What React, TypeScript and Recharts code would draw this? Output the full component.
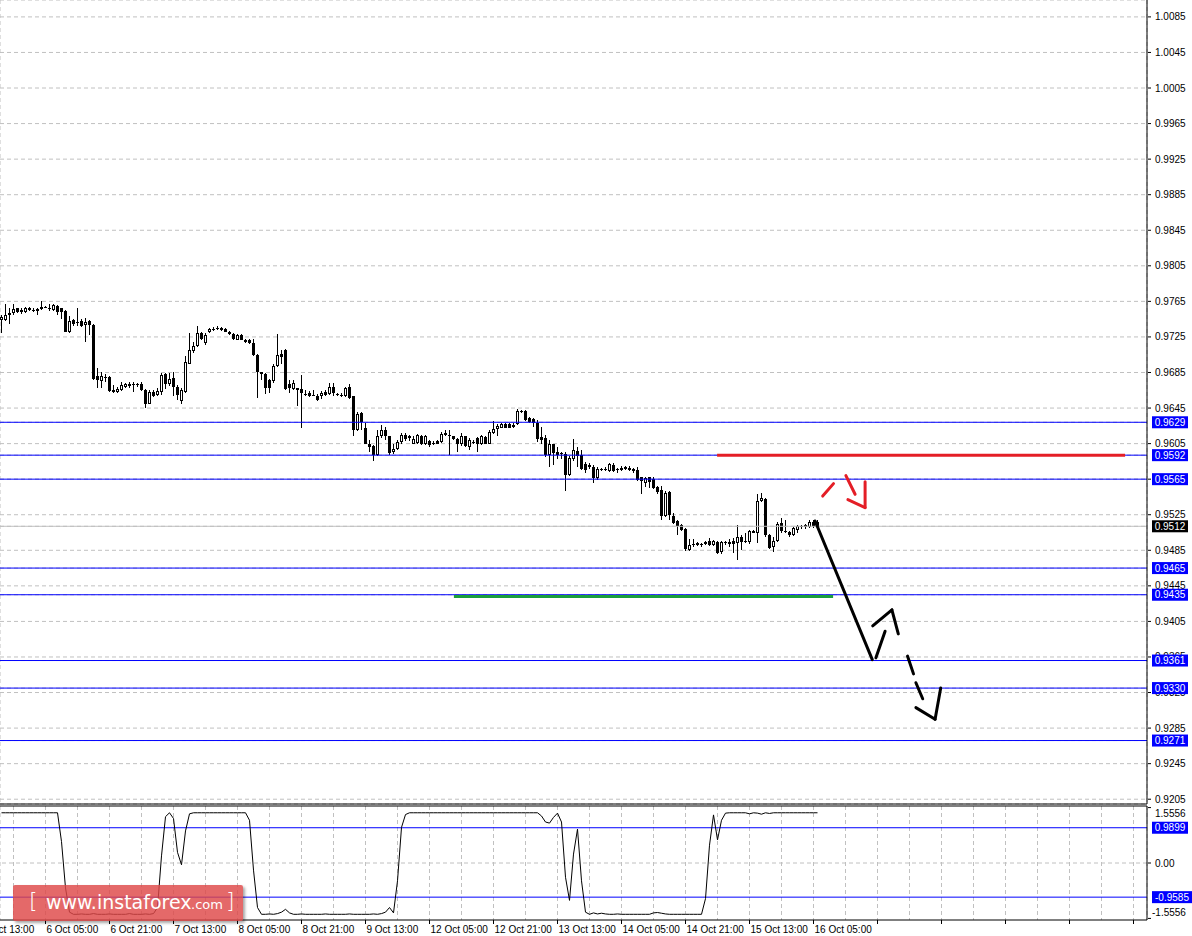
import { Bar, CartesianGrid, ComposedChart, Line, ReferenceLine, XAxis, YAxis } from 'recharts';

// H1 candles, bar 0 = 5 Oct 18:00
const opens = [
    0.9744, 0.9744, 0.9750, 0.9752, 0.9757, 0.9753, 0.9753, 0.9758, 0.9755, 0.9754,
    0.9756, 0.9759, 0.9758, 0.9755, 0.9760, 0.9757, 0.9754, 0.9730, 0.9744, 0.9742,
    0.9743, 0.9738, 0.9743, 0.9738, 0.9681, 0.9675, 0.9680, 0.9680, 0.9665, 0.9663,
    0.9665, 0.9669, 0.9670, 0.9671, 0.9671, 0.9672, 0.9665, 0.9650, 0.9663, 0.9660,
    0.9663, 0.9683, 0.9672, 0.9679, 0.9669, 0.9653, 0.9663, 0.9695, 0.9709, 0.9715,
    0.9729, 0.9718, 0.9730, 0.9733, 0.9734, 0.9735, 0.9734, 0.9731, 0.9728, 0.9722,
    0.9727, 0.9722, 0.9722, 0.9718, 0.9705, 0.9685, 0.9683, 0.9677, 0.9675, 0.9692,
    0.9706, 0.9710, 0.9672, 0.9666, 0.9665, 0.9666, 0.9661, 0.9662, 0.9659, 0.9659,
    0.9658, 0.9663, 0.9661, 0.9669, 0.9661, 0.9660, 0.9658, 0.9669, 0.9658, 0.9620,
    0.9639, 0.9622, 0.9605, 0.9602, 0.9592, 0.9613, 0.9620, 0.9613, 0.9595, 0.9599,
    0.9607, 0.9615, 0.9613, 0.9605, 0.9606, 0.9614, 0.9604, 0.9608, 0.9606, 0.9608,
    0.9607, 0.9615, 0.9615, 0.9613, 0.9610, 0.9604, 0.9613, 0.9601, 0.9607, 0.9611,
    0.9605, 0.9612, 0.9605, 0.9617, 0.9621, 0.9623, 0.9627, 0.9627, 0.9624, 0.9627,
    0.9641, 0.9642, 0.9634, 0.9633, 0.9628, 0.9612, 0.9611, 0.9592, 0.9604, 0.9596,
    0.9594, 0.9593, 0.9570, 0.9588, 0.9597, 0.9592, 0.9582, 0.9581, 0.9579, 0.9566,
    0.9576, 0.9575, 0.9574, 0.9581, 0.9575, 0.9575, 0.9579, 0.9578, 0.9576, 0.9575,
    0.9567, 0.9561, 0.9567, 0.9565, 0.9556, 0.9553, 0.9524, 0.9551, 0.9524, 0.9518,
    0.9514, 0.9509, 0.9485, 0.9492, 0.9493, 0.9491, 0.9492, 0.9495, 0.9491, 0.9494,
    0.9483, 0.9493, 0.9492, 0.9496, 0.9493, 0.9500, 0.9496, 0.9494, 0.9507, 0.9505,
    0.9541, 0.9543, 0.9502, 0.9489, 0.9495, 0.9516, 0.9506, 0.9506, 0.9502, 0.9508,
    0.9511, 0.9511, 0.9511, 0.9517, 0.9517,
];

const highs = [
    0.9750, 0.9762, 0.9757, 0.9762, 0.9758, 0.9757, 0.9759, 0.9759, 0.9757, 0.9757,
    0.9765, 0.9760, 0.9762, 0.9762, 0.9761, 0.9758, 0.9755, 0.9749, 0.9745, 0.9757,
    0.9745, 0.9746, 0.9744, 0.9739, 0.9690, 0.9685, 0.9683, 0.9681, 0.9671, 0.9669,
    0.9674, 0.9673, 0.9674, 0.9674, 0.9673, 0.9674, 0.9666, 0.9665, 0.9665, 0.9668,
    0.9684, 0.9684, 0.9684, 0.9685, 0.9671, 0.9667, 0.9704, 0.9729, 0.9719, 0.9737,
    0.9731, 0.9729, 0.9735, 0.9736, 0.9737, 0.9736, 0.9735, 0.9732, 0.9729, 0.9728,
    0.9728, 0.9723, 0.9723, 0.9723, 0.9706, 0.9686, 0.9684, 0.9678, 0.9694, 0.9728,
    0.9710, 0.9711, 0.9677, 0.9677, 0.9668, 0.9682, 0.9665, 0.9664, 0.9665, 0.9661,
    0.9664, 0.9665, 0.9673, 0.9673, 0.9662, 0.9662, 0.9669, 0.9672, 0.9659, 0.9640,
    0.9641, 0.9628, 0.9609, 0.9603, 0.9620, 0.9626, 0.9624, 0.9614, 0.9604, 0.9609,
    0.9617, 0.9617, 0.9615, 0.9613, 0.9616, 0.9615, 0.9615, 0.9609, 0.9608, 0.9609,
    0.9618, 0.9620, 0.9620, 0.9614, 0.9611, 0.9617, 0.9614, 0.9611, 0.9609, 0.9612,
    0.9615, 0.9614, 0.9620, 0.9630, 0.9627, 0.9628, 0.9628, 0.9628, 0.9628, 0.9644,
    0.9643, 0.9643, 0.9635, 0.9634, 0.9632, 0.9624, 0.9615, 0.9609, 0.9605, 0.9601,
    0.9596, 0.9596, 0.9591, 0.9610, 0.9601, 0.9598, 0.9584, 0.9583, 0.9581, 0.9579,
    0.9578, 0.9579, 0.9583, 0.9583, 0.9578, 0.9580, 0.9580, 0.9580, 0.9578, 0.9579,
    0.9568, 0.9568, 0.9568, 0.9567, 0.9557, 0.9557, 0.9552, 0.9552, 0.9527, 0.9519,
    0.9515, 0.9510, 0.9498, 0.9498, 0.9494, 0.9493, 0.9495, 0.9499, 0.9497, 0.9496,
    0.9495, 0.9496, 0.9498, 0.9499, 0.9513, 0.9502, 0.9504, 0.9508, 0.9508, 0.9548,
    0.9550, 0.9544, 0.9503, 0.9500, 0.9517, 0.9521, 0.9519, 0.9507, 0.9511, 0.9513,
    0.9513, 0.9515, 0.9519, 0.9519, 0.9519,
];

const lows = [
    0.9729, 0.9743, 0.9740, 0.9750, 0.9752, 0.9751, 0.9752, 0.9754, 0.9753, 0.9750,
    0.9755, 0.9757, 0.9754, 0.9754, 0.9750, 0.9745, 0.9730, 0.9729, 0.9737, 0.9737,
    0.9736, 0.9719, 0.9727, 0.9677, 0.9667, 0.9667, 0.9674, 0.9663, 0.9662, 0.9662,
    0.9664, 0.9667, 0.9668, 0.9663, 0.9669, 0.9664, 0.9645, 0.9649, 0.9657, 0.9658,
    0.9660, 0.9666, 0.9670, 0.9658, 0.9654, 0.9650, 0.9662, 0.9694, 0.9707, 0.9714,
    0.9722, 0.9716, 0.9729, 0.9732, 0.9733, 0.9732, 0.9730, 0.9727, 0.9722, 0.9721,
    0.9721, 0.9718, 0.9717, 0.9704, 0.9656, 0.9677, 0.9661, 0.9662, 0.9673, 0.9691,
    0.9695, 0.9665, 0.9662, 0.9665, 0.9647, 0.9622, 0.9658, 0.9657, 0.9658, 0.9653,
    0.9655, 0.9658, 0.9660, 0.9658, 0.9659, 0.9657, 0.9657, 0.9655, 0.9613, 0.9619,
    0.9620, 0.9604, 0.9596, 0.9585, 0.9591, 0.9611, 0.9609, 0.9592, 0.9593, 0.9598,
    0.9605, 0.9608, 0.9608, 0.9604, 0.9605, 0.9603, 0.9603, 0.9601, 0.9603, 0.9604,
    0.9606, 0.9613, 0.9592, 0.9609, 0.9596, 0.9602, 0.9601, 0.9598, 0.9604, 0.9596,
    0.9603, 0.9604, 0.9604, 0.9616, 0.9614, 0.9622, 0.9622, 0.9622, 0.9623, 0.9626,
    0.9639, 0.9630, 0.9628, 0.9624, 0.9607, 0.9605, 0.9590, 0.9579, 0.9581, 0.9588,
    0.9588, 0.9552, 0.9569, 0.9586, 0.9579, 0.9575, 0.9572, 0.9577, 0.9561, 0.9564,
    0.9574, 0.9574, 0.9573, 0.9573, 0.9572, 0.9574, 0.9575, 0.9574, 0.9572, 0.9563,
    0.9548, 0.9556, 0.9555, 0.9554, 0.9548, 0.9519, 0.9523, 0.9519, 0.9515, 0.9502,
    0.9507, 0.9484, 0.9484, 0.9489, 0.9490, 0.9489, 0.9491, 0.9490, 0.9490, 0.9481,
    0.9481, 0.9491, 0.9489, 0.9482, 0.9474, 0.9485, 0.9493, 0.9492, 0.9504, 0.9493,
    0.9539, 0.9500, 0.9486, 0.9483, 0.9494, 0.9505, 0.9504, 0.9500, 0.9501, 0.9505,
    0.9509, 0.9509, 0.9510, 0.9510, 0.9510,
];

const closes = [
    0.9747, 0.9750, 0.9752, 0.9756, 0.9753, 0.9755, 0.9758, 0.9755, 0.9754, 0.9756,
    0.9759, 0.9758, 0.9756, 0.9761, 0.9753, 0.9753, 0.9731, 0.9743, 0.9740, 0.9741,
    0.9737, 0.9742, 0.9738, 0.9678, 0.9677, 0.9681, 0.9679, 0.9664, 0.9663, 0.9666,
    0.9671, 0.9672, 0.9672, 0.9672, 0.9672, 0.9665, 0.9649, 0.9663, 0.9659, 0.9664,
    0.9682, 0.9672, 0.9678, 0.9669, 0.9660, 0.9665, 0.9697, 0.9710, 0.9715, 0.9729,
    0.9723, 0.9727, 0.9734, 0.9734, 0.9735, 0.9733, 0.9731, 0.9728, 0.9723, 0.9727,
    0.9722, 0.9719, 0.9718, 0.9705, 0.9685, 0.9683, 0.9667, 0.9667, 0.9692, 0.9705,
    0.9702, 0.9666, 0.9667, 0.9673, 0.9667, 0.9662, 0.9660, 0.9658, 0.9660, 0.9654,
    0.9662, 0.9660, 0.9669, 0.9662, 0.9660, 0.9658, 0.9668, 0.9656, 0.9620, 0.9638,
    0.9629, 0.9605, 0.9601, 0.9592, 0.9614, 0.9620, 0.9613, 0.9594, 0.9599, 0.9607,
    0.9615, 0.9610, 0.9611, 0.9610, 0.9615, 0.9605, 0.9614, 0.9603, 0.9605, 0.9605,
    0.9616, 0.9617, 0.9613, 0.9610, 0.9605, 0.9613, 0.9602, 0.9609, 0.9606, 0.9605,
    0.9613, 0.9605, 0.9618, 0.9621, 0.9625, 0.9627, 0.9623, 0.9623, 0.9626, 0.9642,
    0.9642, 0.9631, 0.9629, 0.9628, 0.9610, 0.9609, 0.9592, 0.9605, 0.9594, 0.9592,
    0.9593, 0.9570, 0.9589, 0.9598, 0.9591, 0.9577, 0.9575, 0.9579, 0.9566, 0.9577,
    0.9575, 0.9577, 0.9582, 0.9574, 0.9576, 0.9578, 0.9576, 0.9575, 0.9574, 0.9564,
    0.9563, 0.9566, 0.9562, 0.9555, 0.9551, 0.9524, 0.9549, 0.9525, 0.9516, 0.9512,
    0.9508, 0.9487, 0.9491, 0.9491, 0.9491, 0.9492, 0.9494, 0.9491, 0.9496, 0.9482,
    0.9494, 0.9494, 0.9494, 0.9492, 0.9500, 0.9494, 0.9494, 0.9507, 0.9505, 0.9540,
    0.9544, 0.9502, 0.9488, 0.9495, 0.9515, 0.9507, 0.9507, 0.9502, 0.9510, 0.9512,
    0.9512, 0.9514, 0.9517, 0.9512, 0.9512,
];

// lower window oscillator, one value per bar
const oscillator = [
    1.41, 1.41, 1.41, 1.41, 1.41, 1.41, 1.41, 1.41, 1.41, 1.41,
    1.41, 1.41, 1.41, 1.41, 1.41, 0.6, -0.7, -1.38, -1.44, -1.44,
    -1.43, -1.44, -1.44, -1.42, -1.44, -1.44, -1.44, -1.43, -1.44, -1.44,
    -1.44, -1.44, -1.42, -1.44, -1.44, -1.44, -1.43, -1.44, -1.42, -1.25,
    0.2, 1.3, 1.41, 1.25, 0.3, -0.05, 0.9, 1.38, 1.41, 1.41,
    1.41, 1.41, 1.41, 1.41, 1.41, 1.41, 1.41, 1.41, 1.41, 1.41,
    1.41, 1.41, 1.2, -0.2, -1.25, -1.44, -1.44, -1.43, -1.44, -1.42,
    -1.38, -1.3, -1.4, -1.44, -1.44, -1.43, -1.44, -1.44, -1.44, -1.44,
    -1.44, -1.43, -1.44, -1.44, -1.44, -1.44, -1.44, -1.43, -1.44, -1.44,
    -1.44, -1.44, -1.44, -1.43, -1.44, -1.42, -1.38, -1.25, -1.4, -0.5,
    1.0, 1.36, 1.41, 1.41, 1.41, 1.41, 1.41, 1.41, 1.41, 1.41,
    1.41, 1.41, 1.41, 1.41, 1.41, 1.41, 1.41, 1.41, 1.41, 1.41,
    1.41, 1.41, 1.41, 1.41, 1.41, 1.41, 1.41, 1.41, 1.41, 1.41,
    1.41, 1.41, 1.41, 1.41, 1.41, 1.32, 1.15, 1.12, 1.28, 1.4,
    1.15, -0.4, -1.05, 0.25, 0.95, -0.5, -1.38, -1.44, -1.4, -1.43,
    -1.41, -1.43, -1.44, -1.44, -1.43, -1.44, -1.44, -1.44, -1.44, -1.44,
    -1.44, -1.44, -1.44, -1.4, -1.39, -1.41, -1.43, -1.44, -1.44, -1.44,
    -1.44, -1.44, -1.44, -1.44, -1.44, -1.44, -1.0, 0.5, 1.35, 0.65,
    1.2, 1.4, 1.41, 1.41, 1.41, 1.41, 1.41, 1.38, 1.41, 1.4,
    1.37, 1.41, 1.39, 1.41, 1.41, 1.41, 1.41, 1.41, 1.41, 1.41,
    1.41, 1.41, 1.41, 1.41, 1.41,
];

const priceTicks = [
    1.0085, 1.0045, 1.0005, 0.9965, 0.9925, 0.9885, 0.9845, 0.9805, 0.9765, 0.9725, 0.9685, 0.9645,
    0.9605, 0.9565, 0.9525, 0.9485, 0.9445, 0.9405, 0.9365, 0.9325, 0.9285, 0.9245, 0.9205,
];
const levels = [0.9629, 0.9592, 0.9565, 0.9465, 0.9435, 0.9361, 0.933, 0.9271];
const bidPrice = 0.9512;

const oscTicks = [1.5556, 0, -1.5556];
const oscTickText = ['1.5556', '0.00', '-1.5556'];
const oscLevels = [0.9899, -0.9585];

const timeLabels = [
    '5 Oct 13:00', '6 Oct 05:00', '6 Oct 21:00', '7 Oct 13:00', '8 Oct 05:00', '8 Oct 21:00', '9 Oct 13:00',
    '12 Oct 05:00', '12 Oct 21:00', '13 Oct 13:00', '14 Oct 05:00', '14 Oct 21:00', '15 Oct 13:00', '16 Oct 05:00',
];
const firstLabelBar = -5;

// drawn objects: [bar, price]
const redLine = [[178.9, 0.9592], [280.9, 0.9592]];
const greenLine = [[113.1, 0.9433], [207.9, 0.9433]];
const blackStrokes = [
    [[203.4, 0.9518], [217.7, 0.9362]],
    [[218.6, 0.9364], [220.9, 0.9394]],
    [[217.8, 0.94], [222.6, 0.9418], [224.2, 0.9391]],
    [[226.5, 0.9366], [228.0, 0.9346]],
    [[228.6, 0.9336], [230.3, 0.9318]],
    [[228.6, 0.9308], [233.4, 0.9295], [234.8, 0.933]],
];
const redStrokes = [
    [[205.3, 0.9546], [208.0, 0.956]],
    [[211.1, 0.9569], [213.4, 0.9548]],
    [[211.6, 0.9542], [215.9, 0.9533], [215.9, 0.9562]],
];

const rows = opens.map((open, i) => ({ i, open, high: highs[i], low: lows[i], close: closes[i], osc: oscillator[i] }));

const W = 1192;
const xDomain: [number, number] = [-0.375, 286.375];
const gridBars = Array.from({ length: 37 }, (_, k) => firstLabelBar + 8 * k);
// tags last so they are painted over the plain tick labels
const mainAxisTicks = [...priceTicks, bidPrice, ...levels];
const oscAxisTicks = [...oscTicks, ...oscLevels];
const FONT = 'Liberation Sans, Arial, sans-serif';
const GRID = '#c0c0c0';

function Candle(props: any) {
    const { x, y, width, height, payload } = props;
    const { open, high, low, close } = payload;
    const top = Math.min(y, y + height);
    const h = Math.abs(height);
    const k = high > low ? h / (high - low) : 0;
    const py = (p: number) => top + (high - p) * k;
    const c = Math.floor(x + width / 2);
    const bt = Math.round(Math.min(py(open), py(close)));
    const bb = Math.max(bt + 1, Math.round(Math.max(py(open), py(close))));
    const bull = close > open;
    return (
        <g shapeRendering='crispEdges'>
            <rect x={c} y={Math.round(top)} width={1} height={Math.max(1, Math.round(top + h) - Math.round(top))} fill='#000' />
            <rect x={c - 1} y={bt} width={3} height={bb - bt} fill='#000' />
            {bull && bb - bt > 2 && <rect x={c} y={bt + 1} width={1} height={bb - bt - 2} fill='#fff' />}
        </g>
    );
}

function Tag({ y, text, bg }: { y: number; text: string; bg: string }) {
    const w = text.length > 6 ? 40 : 36;
    const x = 1152;
    return (
        <g>
            <rect x={x} y={y - 6} width={w} height={12} fill={bg} />
            <text x={x + w / 2} y={y + 3.5} textAnchor='middle' fontSize={10} fontFamily={FONT} fill='#fff'>
                {text}
            </text>
        </g>
    );
}

function PriceTick(props: any) {
    const { y, payload, index } = props;
    if (index >= priceTicks.length) {
        const isBid = index === priceTicks.length;
        return <Tag y={y} text={payload.value.toFixed(4)} bg={isBid ? '#000' : '#0000ff'} />;
    }
    return (
        <g>
            <line x1={1148} x2={1151} y1={y} y2={y} stroke='#000' />
            <text x={1155} y={y + 3.5} fontSize={10} fontFamily={FONT} fill='#000'>
                {payload.value.toFixed(4)}
            </text>
        </g>
    );
}

function OscTick(props: any) {
    const { y, payload, index } = props;
    if (index >= oscTicks.length) {
        return <Tag y={y} text={payload.value.toFixed(4)} bg='#0000ff' />;
    }
    const shift = payload.value > 0.1 ? 6 : payload.value < -0.1 ? -6 : 0;
    return (
        <g>
            <line x1={1148} x2={1151} y1={y} y2={y} stroke='#000' />
            <text x={payload.value < 0 ? 1152 : 1155} y={y + 3.5 + shift} fontSize={10} fontFamily={FONT} fill='#000'>
                {oscTickText[index]}
            </text>
        </g>
    );
}

function TimeTick(props: any) {
    const { x, payload } = props;
    const n = payload.value - firstLabelBar;
    if (n % 16 !== 0) return <g />;
    return (
        <g>
            <line x1={x} x2={x} y1={115} y2={119} stroke='#000' />
            <text x={x + 1} y={128} fontSize={10} fontFamily={FONT} fill='#000'>
                {timeLabels[n / 16]}
            </text>
        </g>
    );
}

function strokeSegments(lines: number[][][], color: string, width: number, key: string) {
    return lines.flatMap((pts, li) =>
        pts.slice(1).map((p, j) => (
            <ReferenceLine
                key={`${key}-${li}-${j}`}
                segment={[
                    { x: pts[j][0], y: pts[j][1] },
                    { x: p[0], y: p[1] },
                ]}
                stroke={color}
                strokeWidth={width}
                strokeLinecap='round'
            />
        ))
    );
}

export default function App() {
    return (
        <div style={{ position: 'absolute', left: 0, top: 0, width: W, height: 936, background: '#fff', overflow: 'hidden' }}>
            <div style={{ position: 'absolute', left: 0, top: 0 }}>
                <ComposedChart width={W} height={805} data={rows} margin={{ top: 0, right: 0, bottom: 0, left: 0 }}>
                    <CartesianGrid stroke={GRID} strokeDasharray='4 3' />
                    <XAxis type='number' dataKey='i' domain={xDomain} ticks={gridBars} interval={0} height={1} tick={false} tickLine={false} axisLine={{ stroke: '#000' }} allowDataOverflow />
                    <YAxis
                        orientation='right'
                        width={45}
                        type='number'
                        domain={[0.919961, 1.0104]}
                        ticks={mainAxisTicks}
                        interval={0}
                        tick={<PriceTick />}
                        tickLine={false}
                        axisLine={{ stroke: '#000' }}
                        allowDataOverflow
                    />
                    <ReferenceLine y={bidPrice} stroke={GRID} />
                    {levels.map((lv) => (
                        <ReferenceLine key={lv} y={lv} stroke='#0000ff' />
                    ))}
                    <ReferenceLine segment={[{ x: redLine[0][0], y: redLine[0][1] }, { x: redLine[1][0], y: redLine[1][1] }]} stroke='#e41e26' strokeWidth={3} />
                    <ReferenceLine segment={[{ x: greenLine[0][0], y: greenLine[0][1] }, { x: greenLine[1][0], y: greenLine[1][1] }]} stroke='#1a9e3c' strokeWidth={3} />
                    <Bar dataKey={(d: any) => [d.low, d.high]} barSize={3} shape={<Candle />} isAnimationActive={false} />
                    {strokeSegments(blackStrokes, '#000', 3, 'b')}
                    {strokeSegments(redStrokes, '#e41e26', 3, 'r')}
                </ComposedChart>
            </div>
            <div style={{ position: 'absolute', left: 0, top: 805 }}>
                <ComposedChart width={W} height={131} data={rows} margin={{ top: 0, right: 0, bottom: 0, left: 0 }}>
                    <CartesianGrid stroke={GRID} strokeDasharray='4 3' horizontal={false} />
                    <XAxis type='number' dataKey='i' domain={xDomain} ticks={gridBars} interval={0} height={16} tick={<TimeTick />} tickLine={false} axisLine={{ stroke: '#000' }} allowDataOverflow />
                    <XAxis xAxisId='top' orientation='top' type='number' dataKey='i' domain={xDomain} height={1} tick={false} tickLine={false} axisLine={{ stroke: '#000' }} allowDataOverflow />
                    <YAxis
                        orientation='right'
                        width={45}
                        type='number'
                        domain={[-1.6, 1.6]}
                        ticks={oscAxisTicks}
                        interval={0}
                        tick={<OscTick />}
                        tickLine={false}
                        axisLine={{ stroke: '#000' }}
                        allowDataOverflow
                    />
                    <ReferenceLine y={0} stroke={GRID} strokeDasharray='4 3' />
                    {oscLevels.map((lv) => (
                        <ReferenceLine key={lv} y={lv} stroke='#0000ff' />
                    ))}
                    <Line type='linear' dataKey='osc' stroke='#000' strokeWidth={1} dot={false} isAnimationActive={false} />
                </ComposedChart>
            </div>
            <div
                style={{
                    position: 'absolute',
                    left: 13,
                    top: 885,
                    width: 230,
                    height: 36,
                    background: 'rgba(222, 72, 72, 0.82)',
                    borderRadius: 2,
                    boxShadow: '2px 2px 3px rgba(0,0,0,0.35)',
                    color: '#fff',
                    fontFamily: 'DejaVu Sans, Verdana, sans-serif',
                    whiteSpace: 'nowrap',
                }}
            >
                <span style={{ position: 'absolute', left: 16, top: 3, fontSize: 22, fontWeight: 200 }}>[</span>
                <span style={{ position: 'absolute', left: 33, top: 6, fontSize: 19 }}>www.instaforex</span>
                <span style={{ position: 'absolute', left: 178, top: 12, fontSize: 13 }}>.com</span>
                <span style={{ position: 'absolute', left: 213, top: 3, fontSize: 22, fontWeight: 200 }}>]</span>
            </div>
        </div>
    );
}
